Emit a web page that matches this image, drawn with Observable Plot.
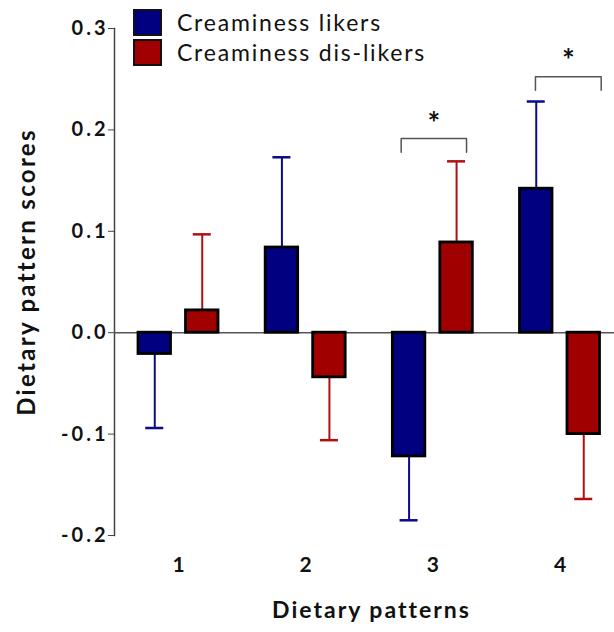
<!DOCTYPE html>
<html>
<head>
<meta charset="utf-8">
<script src="https://cdn.jsdelivr.net/npm/d3@7"></script>
<script src="https://cdn.jsdelivr.net/npm/@observablehq/plot@0.6"></script>
<style>
  body { margin: 0; background: #fff; }
  #chart { position: relative; width: 614px; height: 632px; font-family: Lato, "Open Sans", sans-serif; }
  #legend { position: absolute; left: 133px; top: 7px; }
  .item { display: flex; align-items: center; height: 30px; font-size: 23px; letter-spacing: 1.8px; color: #111; }
  .swatch { width: 25px; height: 23px; border: 2px solid #111; margin-right: 15px; }
  g[aria-label="y-axis tick label"] text { letter-spacing: 3px; }
  text[aria-label="y title"] { letter-spacing: 2.3px; }
  text[aria-label="x title"] { letter-spacing: 2px; }
</style>
</head>
<body>
<div id="chart">
  <div id="legend"></div>
</div>
<script>
// Dietary pattern scores (mean ± SEM) by creaminess preference
const patterns = [1, 2, 3, 4];
const groups = ["Creaminess likers", "Creaminess dis-likers"];
const groupColors = ["#000080", "#a00000"];
const errColors = ["#0a0a8a", "#b01010"];
const likersMean = [-0.021, 0.084, -0.122, 0.142];
const likersSem = [0.073, 0.089, 0.063, 0.086];
const dislikersMean = [0.022, -0.044, 0.089, -0.100];
const dislikersSem = [0.075, 0.062, 0.080, 0.064];
const yTicks = [-0.2, -0.1, 0.0, 0.1, 0.2, 0.3];

// significant differences (p < 0.05): bracket span and heights
const sigPatterns = [3, 4];
const sigX1 = [2.751, 3.807];
const sigX2 = [3.265, 4.324];
const sigTop = [0.1915, 0.2523];
const sigLeg = [0.178, 0.239];
const sigStar = [0.2135, 0.2754];

// layout of a pair of bars around each pattern position (x units)
const barInner = 0.059, barOuter = 0.3145, capHalf = 0.0708;

const rows = patterns.flatMap((p, i) => [
  {pattern: p, group: groups[0], mean: likersMean[i], sem: likersSem[i], side: -1},
  {pattern: p, group: groups[1], mean: dislikersMean[i], sem: dislikersSem[i], side: 1}
]).map(d => ({
  ...d,
  x1: d.pattern + d.side * barInner,
  x2: d.pattern + d.side * barOuter,
  xc: d.pattern + d.side * (barInner + barOuter) / 2,
  end: d.mean + Math.sign(d.mean) * d.sem
}));

const brackets = sigPatterns.flatMap((p, i) => [
  {pattern: p, x: sigX1[i], y: sigLeg[i]},
  {pattern: p, x: sigX1[i], y: sigTop[i]},
  {pattern: p, x: sigX2[i], y: sigTop[i]},
  {pattern: p, x: sigX2[i], y: sigLeg[i]}
]);
const stars = sigPatterns.map((p, i) => ({pattern: p, x: (sigX1[i] + sigX2[i]) / 2, y: sigStar[i]}));

const errColor = d => errColors[groups.indexOf(d.group)];

const chart = Plot.plot({
  width: 614,
  height: 632,
  marginLeft: 114,
  marginRight: 0,
  marginTop: 28,
  marginBottom: 97,
  style: {fontFamily: "Lato, 'Open Sans', sans-serif", color: "#111", background: "transparent"},
  x: {domain: [0.4967, 4.4286]},
  y: {domain: [-0.2, 0.3]},
  color: {domain: groups, range: groupColors},
  marks: [
    Plot.frame({anchor: "left", stroke: "#444", strokeWidth: 1.5}),
    Plot.axisY({
      ticks: yTicks, tickFormat: d => d.toFixed(1), tickSize: 6, tickPadding: 0,
      fontSize: 20, fontWeight: "bold", stroke: "#444", label: null
    }),
    Plot.axisX({
      ticks: patterns, tickFormat: d => String(d), tickSize: 0, tickPadding: 22,
      fontSize: 21, fontWeight: "bold", label: null
    }),
    Plot.text(["Dietary pattern scores"], {
      ariaLabel: () => "y title",
      frameAnchor: "left", textAnchor: "middle", rotate: -90, dx: -87, dy: -10,
      fontSize: 24, fontWeight: "bold"
    }),
    Plot.text(["Dietary patterns"], {
      ariaLabel: () => "x title",
      frameAnchor: "bottom", dx: 7, dy: 82, fontSize: 23, fontWeight: "bold"
    }),
    Plot.ruleY([0], {stroke: "#555", strokeWidth: 1.5}),
    // error bars
    Plot.ruleX(rows, {x: "xc", y1: "mean", y2: "end", stroke: errColor, strokeWidth: 2}),
    Plot.ruleY(rows, {
      y: "end", x1: d => d.xc - capHalf, x2: d => d.xc + capHalf,
      stroke: errColor, strokeWidth: 2.5
    }),
    // bars
    Plot.rect(rows, {
      x1: "x1", x2: "x2", y1: 0, y2: "mean", fill: "group",
      stroke: "#000", strokeWidth: 2.8
    }),
    // significance brackets
    Plot.line(brackets, {x: "x", y: "y", z: "pattern", stroke: "#555", strokeWidth: 1.5}),
    Plot.text(stars, {x: "x", y: "y", dy: 8, text: () => "*", fontSize: 30, fontWeight: "bold", fill: "#111"})
  ]
});

document.getElementById("chart").prepend(chart);
chart.style.position = "absolute";
chart.style.left = "0";
chart.style.top = "0";

const legend = document.getElementById("legend");
groups.forEach((g, i) => {
  const item = document.createElement("div");
  item.className = "item";
  const sw = document.createElement("div");
  sw.className = "swatch";
  sw.style.background = groupColors[i];
  const label = document.createElement("span");
  label.textContent = g;
  item.append(sw, label);
  legend.append(item);
});
</script>
</body>
</html>
